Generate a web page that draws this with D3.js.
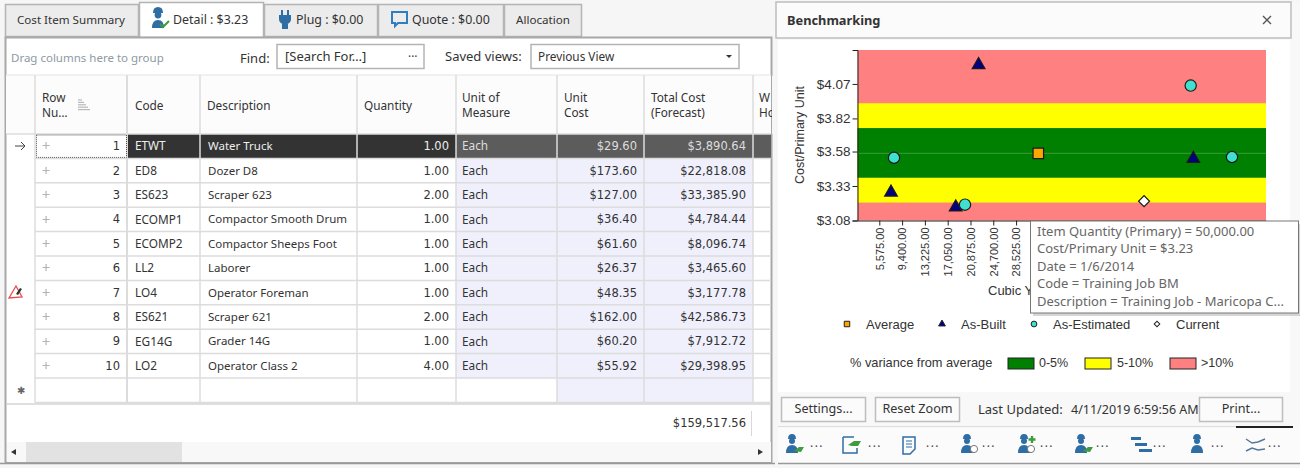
<!DOCTYPE html>
<html><head><meta charset="utf-8">
<script src="https://cdn.jsdelivr.net/npm/d3@7/dist/d3.min.js"></script>
<style>html,body{margin:0;padding:0;background:#fff;overflow:hidden}svg{display:block}
.ui{font-family:"Noto Sans",sans-serif;font-size:11.8px;fill:#333}
.num{font-family:"DejaVu Sans",sans-serif;font-size:11.5px;fill:#333}
.ch{font-family:"Liberation Sans",Arial,sans-serif;fill:#333}</style>
</head><body><script>
// ---------- chart data ----------
const averagePts=[{q:32253,c:3.567}];
const asBuiltPts=[{q:22236,c:4.208},{q:7538,c:3.284},{q:18394,c:3.176},{q:58260,c:3.528}];
const asEstimatedPts=[{q:8041,c:3.535},{q:19955,c:3.195},{q:57822,c:4.058},{q:64753,c:3.54}];
const currentPts=[{q:50000,c:3.22}];
const bandRanges=[{a:3.08,b:4.316,k:">10%"},{a:3.21,b:3.93,k:"5-10%"},{a:3.39,b:3.75,k:"0-5%"}];
const xTickValues=[5575,9400,13225,17050,20875,24700,28525];
const yTickValues=[3.08,3.33,3.58,3.82,4.07];
const yTickLabels=["$3.08","$3.33","$3.58","$3.82","$4.07"];
// ---------- table data ----------
const rowNumbers=[1,2,3,4,5,6,7,8,9,10];
const codes=["ETWT","ED8","ES623","ECOMP1","ECOMP2","LL2","LO4","ES621","EG14G","LO2"];
const descriptions=["Water Truck","Dozer D8","Scraper 623","Compactor Smooth Drum","Compactor Sheeps Foot","Laborer","Operator Foreman","Scraper 621","Grader 14G","Operator Class 2"];
const quantities=["1.00","1.00","2.00","1.00","1.00","1.00","1.00","2.00","1.00","4.00"];
const units=["Each","Each","Each","Each","Each","Each","Each","Each","Each","Each"];
const unitCosts=["$29.60","$173.60","$127.00","$36.40","$61.60","$26.37","$48.35","$162.00","$60.20","$55.92"];
const totalCosts=["$3,890.64","$22,818.08","$33,385.90","$4,784.44","$8,096.74","$3,465.60","$3,177.78","$42,586.73","$7,912.72","$29,398.95"];
const grandTotal="$159,517.56";
const tabLabels=["Cost Item Summary","Detail : $3.23","Plug : $0.00","Quote : $0.00","Allocation"];
const tooltipLines=["Item Quantity (Primary) = 50,000.00","Cost/Primary Unit = $3.23","Date = 1/6/2014","Code = Training Job BM","Description = Training Job - Maricopa C..."];
const legendLabels=["Average","As-Built","As-Estimated","Current"];
const varianceLabels=["0-5%","5-10%",">10%"];

const svg=d3.select("body").append("svg").attr("width",1300).attr("height",468);
const rect=(p,x,y,w,h,f,s,sw)=>p.append("rect").attr("x",x).attr("y",y).attr("width",w).attr("height",h).attr("fill",f||"none").attr("stroke",s||"none").attr("stroke-width",sw||1);
const text=(p,x,y,t,o={})=>p.append("text").attr("class",o.c||"ui").attr("x",x).attr("y",y).attr("dy","0.35em").attr("text-anchor",o.a||"start").style("fill",o.f||null).style("font-size",o.s||null).style("font-weight",o.w||null).style("letter-spacing",o.ls||null).text(t);
const line=(p,x1,y1,x2,y2,s,sw)=>p.append("line").attr("x1",x1).attr("y1",y1).attr("x2",x2).attr("y2",y2).attr("stroke",s).attr("stroke-width",sw||1);
const worker=(g,green)=>{
  g.append("path").attr("d","M-5-6q0-5 4-5t4 5z").attr("fill","#2f6ea5");
  g.append("circle").attr("cx",-1).attr("cy",-4).attr("r",3).attr("fill","#2f6ea5");
  g.append("path").attr("d","M-7 8q0-8 6-8t6 8z").attr("fill","#2f6ea5");
  if(green)g.append("path").attr("d","M1 6l5-4h5l-3 5z").attr("fill","#3f9b3f");
};

rect(svg,0,0,1300,468,"#f6f6f6");

// ---------- left grid ----------
const left=svg.append("g");
const tabEdges=[5,139,264,378,504,582];
tabLabels.forEach((t,i)=>{
  const sel=i===1;
  rect(left,tabEdges[i]+.5,sel?2.5:4.5,tabEdges[i+1]-tabEdges[i]-1,sel?35:32,sel?"#fff":"#ececec","#b4b4b4",1.5);
});
text(left,17,19.5,tabLabels[0],{s:"11.6px"});
text(left,173,19.5,tabLabels[1],{s:"12.4px"});
text(left,296,19.5,tabLabels[2],{s:"12.4px"});
text(left,412,19.5,tabLabels[3],{s:"12.4px"});
text(left,516,19.5,tabLabels[4],{s:"11.6px"});
// tab icons
left.append("path").attr("d","M153 13q0-6 5-6t5 6z").attr("fill","#2f6ea5");
left.append("circle").attr("cx",158).attr("cy",15).attr("r",3.4).attr("fill","#2f6ea5");
left.append("path").attr("d","M152 28q0-8 6-8t6 8z").attr("fill","#2f6ea5");
left.append("path").attr("d","M160 24l3 3 6-6").attr("stroke","#3f9b3f").attr("stroke-width",2).attr("fill","none");
left.append("path").attr("d","M282 10v6M288 10v6M280 16h10v3q0 3-3 4v5h-4v-5q-3-1-3-4z").attr("stroke","#2f6ea5").attr("stroke-width",2).attr("fill","#2f6ea5");
left.append("path").attr("d","M392 12h15v11h-9l-3 3v-3h-3z").attr("stroke","#2f7fc0").attr("stroke-width",2).attr("fill","none");

rect(left,5.5,37.5,766,425,"#fff","#a8a8a8",2);
text(left,11,58,"Drag columns here to group",{f:"#8d9aa3",s:"11.5px"});
text(left,240,58,"Find:",{s:"13px"});
rect(left,277,44.5,147,24,"#fff","#b4b4b4",1.5);
text(left,285,56.5,"[Search For…]",{s:"13px"});
text(left,408,56.5,"···",{f:"#444"});
text(left,445,56.5,"Saved views:",{s:"13px"});
rect(left,531,44.5,208,24,"#fff","#b4b4b4",1.5);
text(left,538,56.5,"Previous View",{s:"11.8px"});
left.append("path").attr("d","M726 55h6l-3 3z").attr("fill","#333");

const colEdges=[6,35,127,200,357,456,557,644,753,771];
const headerTop=75,headerBottom=134;
const rowY=d3.scaleLinear().domain([0,11]).range([134,402.4]);
rect(left,6,headerTop,765,headerBottom-headerTop,"#fcfcfc");
rect(left,colEdges[5],rowY(1),colEdges[6]-colEdges[5],rowY(10)-rowY(1),"#f0f0fd");
rect(left,colEdges[6],rowY(1),colEdges[8]-colEdges[6],rowY(11)-rowY(1),"#f0f0fd");
// selected row
rect(left,colEdges[2],rowY(0),colEdges[5]-colEdges[2],rowY(1)-rowY(0),"#333333");
rect(left,colEdges[5],rowY(0),colEdges[8]-colEdges[5],rowY(1)-rowY(0),"#5c5c5c");
rect(left,colEdges[8],rowY(0),colEdges[9]-colEdges[8],rowY(1)-rowY(0),"#5c5c5c");
// grid lines
d3.range(0,12).forEach(i=>line(left,i==0?6:35,rowY(i),771,rowY(i),"#dcdcdc",1.5));
colEdges.slice(1,-1).forEach(x=>line(left,x,headerTop,x,rowY(11),"#dcdcdc",x===127?2:1.5));
line(left,6,75,771,75,"#e4e4e4",1);
line(left,6,404,771,404,"#d4d4d4",1.5);
// headers
text(left,42,97.5,"Row");text(left,42,112.5,"Nu…");
[0,1,2,3,4].forEach(i=>line(left,78,100+i*2.4,82+i*2,100+i*2.4,"#b8b8b8",1.2));
text(left,135,105.5,"Code");text(left,207,105.5,"Description");text(left,364,105.5,"Quantity");
text(left,462,97.5,"Unit of");text(left,462,112.5,"Measure");
text(left,564,97.5,"Unit");text(left,564,112.5,"Cost");
text(left,651,97.5,"Total Cost");text(left,651,112.5,"(Forecast)");
text(left,759,97.5,"W");text(left,759,112.5,"Ho");
rect(left,772,76,6,58,"#f6f6f6");
// rows
rowNumbers.forEach((n,i)=>{
  const y=(rowY(i)+rowY(i+1))/2, sel=i===0;
  text(left,46,y,"+",{a:"middle",f:"#b4b4b4",s:"15px"});
  text(left,120,y,n,{a:"end",c:"num"});
  text(left,135,y,codes[i],{f:sel?"#eee":null});
  text(left,208,y,descriptions[i],{f:sel?"#eee":null,s:"11.5px"});
  text(left,449,y,quantities[i],{a:"end",c:"num",f:sel?"#eee":null});
  text(left,462,y,units[i],{f:sel?"#ddd":null});
  text(left,637,y,unitCosts[i],{a:"end",c:"num",f:sel?"#ddd":null});
  text(left,746,y,totalCosts[i],{a:"end",c:"num",f:sel?"#ddd":null});
});
rect(left,36.5,rowY(0)+1,90,rowY(1)-rowY(0)-2,"none","#555").attr("stroke-dasharray","1 1");
left.append("path").attr("d","M15 146h10M21 142l4 4-4 4").attr("stroke","#444").attr("fill","none");
left.append("path").attr("d","M9 298l7-12 6 11z").attr("stroke","#e84a4a").attr("stroke-width",1.3).attr("fill","none");
left.append("path").attr("d","M16 294l4-6 2 1-4 6z").attr("fill","#333");
text(left,21,390,"✱",{a:"middle",f:"#666",s:"10px"});
// footer
text(left,746,423,grandTotal,{a:"end",c:"num"});
line(left,751.5,411,751.5,436,"#d8d8d8");
rect(left,7,442,764,20,"#f8f8f8");
rect(left,26,442,156,20,"#e2e2e2");
left.append("path").attr("d","M12 449v6l-5-3z").attr("transform","translate(4,0)").attr("fill","#333");
left.append("path").attr("d","M758 449v6l5-3z").attr("fill","#333");
line(svg,0,463.5,775,463.5,"#999",1.5);

// ---------- right panel ----------
const right=svg.append("g");
rect(right,778,2,522,464,"#f8f8f8");
rect(right,778,40,512,352,"#fff");
rect(right,776,2,515,36,"#fbfbfb","#bdbdbd",1.5);
text(right,787,20.5,"Benchmarking",{w:"bold",s:"12.8px"});
right.append("path").attr("d","M1263 16l8 8M1271 16l-8 8").attr("stroke","#555").attr("stroke-width",1.4);

// chart
const plot={l:857.5,r:1266,t:50,b:220.5};
const x=d3.scaleLinear().domain([1917,70458]).range([plot.l,plot.r]);
const y=d3.scaleLinear().domain([3.08,4.316]).range([plot.b,plot.t]);
const bandColor={">10%":"#ff8080","5-10%":"#ffff00","0-5%":"#008000"};
const chart=right.append("g");
chart.selectAll("rect.band").data(bandRanges).join("rect").attr("class","band")
  .attr("x",plot.l).attr("width",plot.r-plot.l).attr("y",d=>y(d.b)).attr("height",d=>y(d.a)-y(d.b)).attr("fill",d=>bandColor[d.k]);
line(chart,plot.l,y(averagePts[0].c),plot.r,y(averagePts[0].c),"#3c9a3c",1);

const yAxis=d3.axisLeft(y).tickValues(yTickValues).tickFormat((d,i)=>yTickLabels[i]).tickSize(5).tickSizeOuter(5);
const gy=chart.append("g").attr("transform",`translate(${plot.l},0)`).call(yAxis);
gy.selectAll("text").attr("class","ch").style("font-size","13.5px").attr("x",-7);
gy.selectAll("line,path").attr("stroke","#222");
const xAxis=d3.axisBottom(x).tickValues(xTickValues).tickFormat(d3.format(",.2f")).tickSize(5).tickSizeOuter(0);
const gx=chart.append("g").attr("transform",`translate(0,${plot.b})`).call(xAxis);
gx.selectAll("text").attr("class","ch").style("font-size","11px").attr("transform","rotate(-90)").attr("text-anchor","end").attr("x",-7).attr("y",0).attr("dy","0.35em");
gx.selectAll("line,path").attr("stroke","#222");
text(chart,800,135,"Cost/Primary Unit",{c:"ch",a:"middle",s:"12.5px"}).attr("transform","rotate(-90 800 135)");
text(chart,988,290,"Cubic Y",{c:"ch",s:"13px"});

const series=[
 {pts:averagePts,sym:d3.symbolSquare,fill:"#ffa500",size:110,leg:30,rot:0},
 {pts:asBuiltPts,sym:d3.symbolTriangle,fill:"#000080",size:70,leg:20,rot:0},
 {pts:asEstimatedPts,sym:d3.symbolCircle,fill:"#40e0d0",size:100,leg:26,rot:0},
 {pts:currentPts,sym:d3.symbolSquare,fill:"#ffffff",size:60,leg:16,rot:45}];
series.forEach(s=>{
  chart.append("g").selectAll("path").data(s.pts).join("path")
    .attr("d",d3.symbol().type(s.sym).size(s.size))
    .attr("transform",d=>`translate(${x(d.q)},${y(d.c)}) rotate(${s.rot})`)
    .attr("fill",s.fill).attr("stroke","#1a1a1a").attr("stroke-width",1.2);
});
// legends
const legMarkX=[847,942,1034,1157],legTextX=[866,961,1053,1176];
series.forEach((s,i)=>{
  right.append("path").attr("d",d3.symbol().type(s.sym).size(s.leg)).attr("transform",`translate(${legMarkX[i]},324) rotate(${s.rot})`)
    .attr("fill",s.fill).attr("stroke","#222");
  text(right,legTextX[i],324.5,legendLabels[i],{c:"ch",s:"13px"});
});
text(right,850,363,"% variance from average",{c:"ch",s:"12.8px"});
const swX=[1008,1085,1170],swC=["0-5%","5-10%",">10%"],swTx=[1039,1117,1201];
swX.forEach((sx,i)=>{
  rect(right,sx,358,26,11,bandColor[swC[i]],"#222",1);
  text(right,swTx[i],363,varianceLabels[i],{c:"ch",s:"12.5px"});
});

// tooltip
rect(right,1033,224,267,92,"#bbb").attr("opacity",.6);
rect(right,1030.5,221,268,92,"#fff","#777",1);
tooltipLines.forEach((t,i)=>text(right,1037,231.5+i*17.4,t,{f:"#666",s:"13px"}));

// buttons
[["Settings...",781,85],["Reset Zoom",875,85],["Print...",1199,84]].forEach(([t,bx,w])=>{
  rect(right,bx+.5,397.5,w-1,24,"#fbfbfb","#bdbdbd",1.5);
  text(right,bx+w/2,409,t,{a:"middle",s:"12.6px"});
});
text(right,978,409.5,"Last Updated:",{s:"13px"});
text(right,1071,409.5,"4/11/2019 6:59:56 AM",{s:"12.5px"});
line(right,778,426.5,1290,426.5,"#ddd",1);
rect(right,778,428,522,35,"#fbfbfb");
line(right,1236,427,1293,427,"#222",2);
const iconX=[793,851,909,968,1025,1082,1140,1198,1256],dotsX=[817,875,933,989,1047,1103,1160,1218,1275];
iconX.forEach((ix,i)=>{
  const g=right.append("g").attr("transform",`translate(${ix},445)`);
  if(i===1){g.append("path").attr("d","M-8-8h11M-8-8v16h14v-5").attr("stroke","#2f6ea5").attr("stroke-width",1.5).attr("fill","none");g.append("path").attr("d","M-3 0l6-4h7l-3 5h-6z").attr("fill","#3f9b3f");}
  else if(i===2){g.append("path").attr("d","M-6-8h12v12l-5 5h-7z").attr("stroke","#2f6ea5").attr("stroke-width",1.5).attr("fill","none");g.append("path").attr("d","M-3-4h6M-3-1h6M-3 2h6").attr("stroke","#2f6ea5");}
  else if(i===6){g.append("path").attr("d","M-9-8h10v3h-10zM-5-2h12v3h-12zM-1 4h13v3h-13z").attr("fill","#2f6ea5");}
  else if(i===8){g.append("path").attr("d","M-10-6l6 4 6-1 7-3M-10 6l6-3 6 2 7-1").attr("stroke","#55789a").attr("stroke-width",1.4).attr("fill","none");}
  else{
    worker(g,i===0||i===5);
    if(i===3||i===4)g.append("circle").attr("cx",6).attr("cy",4).attr("r",3.6).attr("fill","#fff").attr("stroke","#777");
    if(i===4)g.append("path").attr("d","M7-9v7M3.5-5.5h7").attr("stroke","#3f9b3f").attr("stroke-width",2.4);
  }
  text(right,dotsX[i],443,"...",{a:"middle",f:"#444",ls:"1.5px"});
});
line(right,778,463.5,1300,463.5,"#999",1.5);
</script></body></html>
